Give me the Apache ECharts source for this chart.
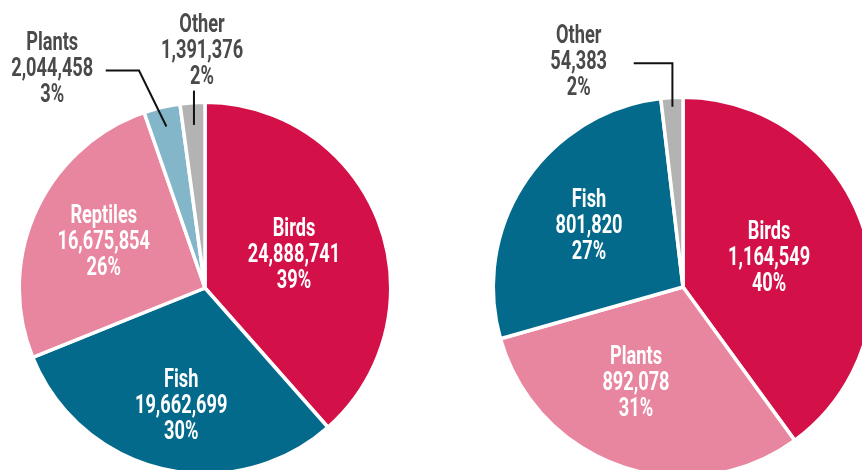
<!DOCTYPE html>
<html><head><meta charset="utf-8">
<script src="https://cdn.jsdelivr.net/npm/echarts@6/dist/echarts.min.js"></script>
<style>html,body{margin:0;padding:0;background:#fff}#c{width:862px;height:470px}</style>
</head><body><div id="c"></div>
<script>
// ---- data ----
const leftCategories = ['Birds', 'Fish', 'Reptiles', 'Plants', 'Other'];
const leftValues = [24888741, 19662699, 16675854, 2044458, 1391376];
const leftPercents = ['39%', '30%', '26%', '3%', '2%'];

const rightCategories = ['Birds', 'Plants', 'Fish', 'Other'];
const rightValues = [1164549, 892078, 801820, 54383];
const rightPercents = ['40%', '31%', '27%', '2%'];

// ---- styles ----
const C_BIRDS = '#D31148', C_FISH = '#036A8C', C_PINK = '#E8859F', C_BLUE = '#84B6C9', C_GREY = '#B3B3B3';
const leftColors = [C_BIRDS, C_FISH, C_PINK, C_BLUE, C_GREY];
const rightColors = [C_BIRDS, C_PINK, C_FISH, C_GREY];
const FONT = "Roboto, 'Noto Sans', sans-serif";
const FONT_SIZE = 26, LINE_H = 26, SQUEEZE = 0.7;

const leftCenter = [205, 288], rightCenter = [683, 287];
const BORDER = 3.5;

// label layout tweaks (inside: dx,dy; outside: guide-line geometry)
const leftLayout = [
  {dx: -1, dy: 1},
  {dx: -2.5, dy: 25.5},
  {dx: -20, dy: -6},
  {out: true, inset: 19.7, elbow: [-27.4, -56], arm: -33.3, label: [-53.5, -0.7]},
  {out: true, inset: 22.3, elbow: [0, -34.3], arm: 0, label: [8.1, -39.5]}
];
const rightLayout = [
  {dx: -10, dy: 1.5},
  {dx: -21.5, dy: 3.6},
  {dx: -18, dy: -6},
  {out: true, inset: 9.2, elbow: [0, -43.4], arm: -38.7, label: [-55, -0.5]}
];

function fmt(n) {
  return String(n).replace(/\B(?=(\d{3})+(?!\d))/g, ',');
}

function labelBase(pcts) {
  return {
    show: true,
    fontFamily: FONT,
    fontWeight: 'bold',
    fontSize: FONT_SIZE,
    lineHeight: LINE_H,
    align: 'center',
    verticalAlign: 'middle',
    formatter: p => p.name + '\n' + fmt(p.value) + '\n' + pcts[p.dataIndex]
  };
}

// base pie: coloured sectors + inside labels
function baseSeries(cats, vals, pcts, colors, center, rVisible, layout) {
  return {
    type: 'pie', z: 2,
    center: center,
    radius: [0, rVisible + BORDER / 2],
    startAngle: 90, clockwise: true,
    avoidLabelOverlap: false, silent: true,
    itemStyle: {borderColor: '#FFFFFF', borderWidth: BORDER},
    label: Object.assign(labelBase(pcts), {position: 'inside', color: '#FFFFFF'}),
    labelLine: {show: false},
    labelLayout: p => ({dx: layout[p.dataIndex].dx || 0, dy: layout[p.dataIndex].dy || 0}),
    emphasis: {disabled: true},
    data: cats.map((name, i) => ({
      name, value: vals[i],
      itemStyle: {color: colors[i]},
      label: {show: !layout[i].out}
    }))
  };
}

// overlay pie (transparent, same angles): outside labels + guide lines drawn above sectors
function overlaySeries(cats, vals, pcts, center, rVisible, layout) {
  return {
    type: 'pie', z: 5,
    center: center,
    radius: [0, rVisible + BORDER / 2],
    startAngle: 90, clockwise: true,
    avoidLabelOverlap: false, silent: true,
    itemStyle: {color: 'rgba(0,0,0,0)', borderWidth: 0},
    label: Object.assign(labelBase(pcts), {position: 'outside', color: '#4A4A4A'}),
    labelLine: {show: true, length: 20, length2: 20, lineStyle: {color: '#111111', width: 2}},
    labelLayout: function (p) {
      const cfg = layout[p.dataIndex];
      const pts = p.labelLinePoints;
      if (!cfg.out || !pts) return {};
      const p0 = pts[0];
      const vx = p0[0] - center[0], vy = p0[1] - center[1];
      const len = Math.sqrt(vx * vx + vy * vy) || 1;
      const s = [p0[0] - vx / len * cfg.inset, p0[1] - vy / len * cfg.inset];
      const e = [s[0] + cfg.elbow[0], s[1] + cfg.elbow[1]];
      const t = [e[0] + cfg.arm, e[1]];
      return {
        x: t[0] + cfg.label[0], y: t[1] + cfg.label[1],
        align: 'center', verticalAlign: 'middle',
        labelLinePoints: [s, e, t]
      };
    },
    emphasis: {disabled: true},
    data: cats.map((name, i) => ({
      name, value: vals[i],
      label: {show: !!layout[i].out},
      labelLine: {show: !!layout[i].out}
    }))
  };
}

const chart = echarts.init(document.getElementById('c'), null, {renderer: 'canvas'});
chart.setOption({
  animation: false,
  backgroundColor: '#FFFFFF',
  series: [
    baseSeries(leftCategories, leftValues, leftPercents, leftColors, leftCenter, 184, leftLayout),
    baseSeries(rightCategories, rightValues, rightPercents, rightColors, rightCenter, 188, rightLayout),
    overlaySeries(leftCategories, leftValues, leftPercents, leftCenter, 184, leftLayout),
    overlaySeries(rightCategories, rightValues, rightPercents, rightCenter, 188, rightLayout)
  ]
});

// condensed lettering: squeeze every label horizontally around its anchor
function squeezeLabels() {
  chart.getModel().eachSeries(function (s) {
    const data = s.getData();
    data.each(function (idx) {
      const el = data.getItemGraphicEl(idx);
      const label = el && el.getTextContent && el.getTextContent();
      if (label && !label.ignore) {
        label.scaleX = SQUEEZE;
        label.markRedraw();
      }
    });
  });
  chart.getZr().refreshImmediately();
}
squeezeLabels();
</script>
</body></html>
